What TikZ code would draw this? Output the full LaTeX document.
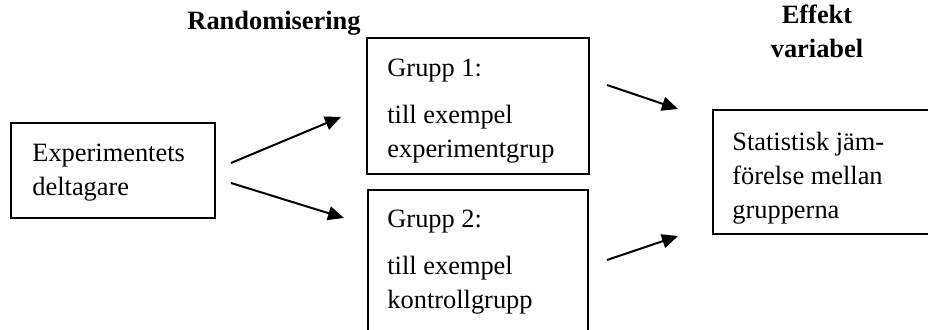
\documentclass[tikz,border=0pt]{standalone}
\usepackage{fontspec}
\setmainfont{Liberation Serif}
\usetikzlibrary{arrows.meta}

\begin{document}
\begin{tikzpicture}[
          % Environment Config: one unit is one pixel, y grows downwards
          x=0.5pt, y=-0.5pt,
          font=\fontsize{13.2}{17}\selectfont,
          Frame/.style={% Style for the boxes
            draw,
            line width=1pt,
            rectangle,
            inner sep=0pt,
            anchor=north west
          },
          Label/.style={% Style for the text in the boxes
            align=left,
            inner sep=0pt,
            anchor=north west
          },
          Heading/.style={% Style for the column titles
            font=\fontsize{13.2}{17}\selectfont\bfseries,
            align=center,
            inner sep=0pt
          },
          MyArrow/.style={% Style for the arrows
            -{Triangle[length=8pt,width=7pt]},
            line width=1pt
          }
        ]

        % Fix the page size
        \useasboundingbox (0,0) rectangle (928,330);
        \clip (0,0) rectangle (928,330);

        % Column titles
        \node[Heading, anchor=base] (Rand) at (274,30) {Randomisering};
        \node[Heading, anchor=north] (Eff) at (817,5) {Effekt\\variabel};

        % Put the boxes in position
        \node[Frame, minimum width=102pt, minimum height=47.5pt] (Part) at (10,122) {};
        \node[Frame, minimum width=111pt, minimum height=68pt] (G1) at (366,37) {};
        \node[Frame, minimum width=110pt, minimum height=80pt] (G2) at (367,189) {};
        \node[Frame, minimum width=120pt, minimum height=62pt] (Stat) at (712,109) {};

        % Texts in the boxes
        \node[Label] (Part-T) at ([shift={(22,15)}]Part.north west)
            {\strut Experimentets\\deltagare};
        \node[Label] (G1-T) at ([shift={(21,15)}]G1.north west)
            {\strut Grupp 1:\\[6.5pt]till exempel\\experimentgrup};
        \node[Label] (G2-T) at ([shift={(20,14)}]G2.north west)
            {\strut Grupp 2:\\[6.5pt]till exempel\\kontrollgrupp};
        \node[Label] (Stat-T) at ([shift={(20,17)}]Stat.north west)
            {\strut Statistisk jäm-\\förelse mellan\\grupperna};

        % Arrow ends
        \coordinate (A1) at (231,163);
        \coordinate (B1) at (341,117);
        \coordinate (A2) at (231,183);
        \coordinate (B2) at (344,218);
        \coordinate (A3) at (607,85);
        \coordinate (B3) at (678,109);
        \coordinate (A4) at (607,260);
        \coordinate (B4) at (678,236);

        % Draw the arrows
        \draw[MyArrow] (A1) -- (B1);
        \draw[MyArrow] (A2) -- (B2);
        \draw[MyArrow] (A3) -- (B3);
        \draw[MyArrow] (A4) -- (B4);

        \end{tikzpicture}
\end{document}
